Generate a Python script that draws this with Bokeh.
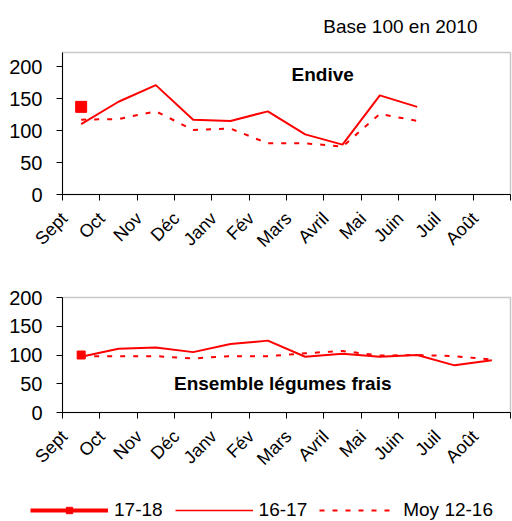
from bokeh.plotting import figure
from bokeh.models import Range1d, FixedTicker, Label, Legend, LegendItem
from bokeh.layouts import column
from bokeh.embed import file_html
from bokeh.resources import INLINE

months = ["Sept", "Oct", "Nov", "Déc", "Janv", "Fév", "Mars", "Avril", "Mai", "Juin", "Juil", "Août"]

# Endive
endive_1718 = [137]
endive_1617 = [110, 145, 171, 117, 115, 130, 94, 78, 155, 137]
endive_moy = [117, 118, 130, 101, 103, 80, 80, 75, 126, 115]

# Ensemble légumes frais
leg_1718 = [100]
leg_1617 = [97, 111, 113, 105, 119, 125, 97, 102, 97, 100, 82, 91]
leg_moy = [98, 98, 98, 94, 98, 98, 103, 107, 99, 100, 98, 92]

series_names = ["17-18", "16-17", "Moy 12-16"]

RED = "#ff0000"
FONT = "Liberation Sans"
SHIFT = 0.05  # label anchor offset from category boundary
DASH = "5 8"


def xs(vals):
    return [i + 0.5 - SHIFT for i in range(len(vals))]


def make_fig(height, ymax, top, bottom, left):
    p = figure(width=512, height=height,
               x_range=Range1d(-SHIFT, len(months) - SHIFT),
               y_range=Range1d(0, ymax),
               output_backend="svg", toolbar_location=None,
               min_border_left=left, min_border_right=2,
               min_border_top=top, min_border_bottom=bottom)
    p.xgrid.visible = False
    p.ygrid.visible = False
    p.outline_line_color = "#c8c8c8"
    p.outline_line_width = 1.5
    p.background_fill_color = "white"
    p.border_fill_color = "white"
    # x axis
    xa = p.xaxis[0]
    xa.ticker = FixedTicker(ticks=list(range(len(months))),
                            minor_ticks=[i - SHIFT for i in range(len(months) + 1)])
    xa.major_label_overrides = {i: m for i, m in enumerate(months)}
    xa.major_label_orientation = 0.785398
    xa.major_tick_out = 0
    xa.major_tick_in = 0
    xa.minor_tick_out = 6
    xa.minor_tick_in = 0
    xa.major_label_standoff = 15
    xa.major_label_text_font = FONT
    xa.major_label_text_font_size = "18px"
    xa.major_label_text_color = "black"
    xa.axis_line_color = "black"
    xa.minor_tick_line_color = "black"
    # y axis
    ya = p.yaxis[0]
    ya.ticker = FixedTicker(ticks=[0, 50, 100, 150, 200])
    ya.major_tick_out = 6
    ya.major_tick_in = 0
    ya.minor_tick_line_color = None
    ya.major_label_text_font = FONT
    ya.major_label_text_font_size = "20px"
    ya.major_label_text_color = "black"
    ya.major_label_standoff = 14
    ya.axis_line_color = "black"
    ya.major_tick_line_color = "black"
    return p


p1 = make_fig(260, 222, 52, 66, 60)
p1.title.text = "Base 100 en 2010"
p1.title.align = "right"
p1.title.vertical_align = "top"
p1.title.text_font = FONT
p1.title.text_font_size = "19px"
p1.title.text_font_style = "normal"
p1.title.text_color = "black"
p1.title.offset = 33
p1.title.standoff = 28
p1.line(xs(endive_moy), endive_moy, line_color=RED, line_width=2, line_dash=DASH)
p1.line(xs(endive_1617), endive_1617, line_color=RED, line_width=2)
p1.line(xs(endive_1718), endive_1718, line_color=RED, line_width=4)
p1.scatter(xs(endive_1718), endive_1718, marker="square", size=11, color=RED)
p1.add_layout(Label(x=6.97 - SHIFT, y=188, text="Endive", text_font=FONT,
                    text_font_size="19px", text_font_style="bold", text_color="black",
                    text_align="center", text_baseline="middle"))

p2 = make_fig(220, 200, 37, 68, 62)
p2.line(xs(leg_moy), leg_moy, line_color=RED, line_width=2, line_dash=DASH)
p2.line(xs(leg_1617), leg_1617, line_color=RED, line_width=2)
p2.line(xs(leg_1718), leg_1718, line_color=RED, line_width=4)
p2.scatter(xs(leg_1718), leg_1718, marker="square", size=8, color=RED)
p2.add_layout(Label(x=5.9 - SHIFT, y=50, text="Ensemble légumes frais", text_font=FONT,
                    text_font_size="19px", text_font_style="bold", text_color="black",
                    text_align="center", text_baseline="middle"))

# legend strip (proxy renderers lie outside the visible range)
p3 = figure(width=512, height=41, x_range=Range1d(0, 1), y_range=Range1d(0, 1),
            output_backend="svg", toolbar_location=None,
            x_axis_location=None, y_axis_location=None,
            min_border_left=0, min_border_right=0, min_border_top=0, min_border_bottom=0)
p3.xgrid.visible = False
p3.ygrid.visible = False
p3.outline_line_color = None
r_a = p3.line(xs(leg_1718), leg_1718, line_color=RED, line_width=4)
r_b = p3.scatter(xs(leg_1718), leg_1718, marker="square", size=7, color=RED)
r_c = p3.line(xs(leg_1617), leg_1617, line_color=RED, line_width=1.5)
r_d = p3.line(xs(leg_moy), leg_moy, line_color=RED, line_width=2, line_dash=DASH)
legend = Legend(items=[
    LegendItem(label=series_names[0], renderers=[r_a, r_b]),
    LegendItem(label=series_names[1], renderers=[r_c]),
    LegendItem(label=series_names[2], renderers=[r_d]),
], orientation="horizontal", location=(30, 0))
legend.padding = 0
legend.margin = 0
legend.spacing = 12
legend.glyph_width = 78
legend.glyph_height = 16
legend.label_standoff = 6
legend.label_text_font = FONT
legend.label_text_font_size = "19px"
legend.label_text_color = "black"
legend.border_line_alpha = 0
legend.background_fill_alpha = 0
p3.add_layout(legend, "center")

layout = column(column(p1, p2, spacing=0), p3, spacing=0)
open("out.html", "w").write(file_html(layout, INLINE))
